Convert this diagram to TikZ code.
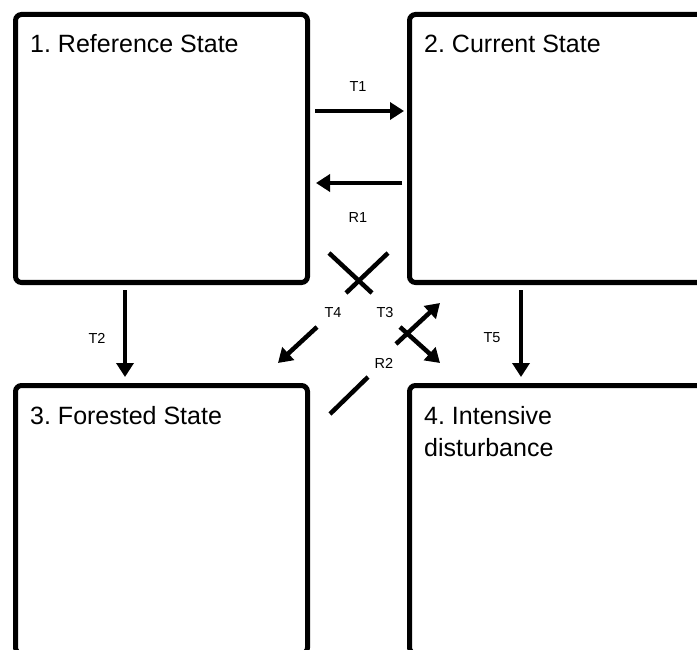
\documentclass[tikz,border=0pt]{standalone}
\usepackage{fontspec}
\setmainfont{Liberation Sans}
\usetikzlibrary{arrows.meta}
\frenchspacing
\begin{document}
\begin{tikzpicture}[x=1pt,y=-1pt,
  box/.style={draw,line width=5pt,rounded corners=6pt,anchor=north west,inner sep=0pt},
  title/.style={anchor=base west,font=\fontsize{25}{32}\selectfont,inner sep=0pt},
  lab/.style={font=\fontsize{14.5}{17}\selectfont,inner sep=0pt},
  arr/.style={line width=4.5pt,-{Triangle[width=17pt,length=14pt]}},
  bar/.style={line width=4.5pt}]
\useasboundingbox (0,0) rectangle (697,650);
\clip (0,0) rectangle (697,650);
% boxes
\node[box,minimum width=292pt,minimum height=268pt] (b1) at (13,12) {};
\node[box,minimum width=300pt,minimum height=268pt] (b2) at (407,12) {};
\node[box,minimum width=292pt,minimum height=268pt] (b3) at (13,383) {};
\node[box,minimum width=300pt,minimum height=268pt] (b4) at (407,383) {};
% titles
\node[title] (n1) at (30,53) {1. Reference State};
\node[title] (n2) at (424,53) {2. Current State};
\node[title] (n3) at (30,424) {3. Forested State};
\node[title] (n4) at (424,424) {4. Intensive};
\node[title] (n4b) at (424,456) {disturbance};
% connector end points
\coordinate (t1s) at (315,111); \coordinate (t1e) at (404,111);
\coordinate (r1s) at (402,183); \coordinate (r1e) at (316,183);
\coordinate (t2s) at (125,290); \coordinate (t2e) at (125,377);
\coordinate (t5s) at (521,290); \coordinate (t5e) at (521,377);
\coordinate (t4s) at (317,327); \coordinate (t4e) at (278,363);
\coordinate (t3s) at (396,344); \coordinate (t3e) at (440,303);
\coordinate (r2s) at (400,327); \coordinate (r2e) at (440,363);
\coordinate (x1a) at (329,253); \coordinate (x1b) at (372,293);
\coordinate (x2a) at (388,253); \coordinate (x2b) at (346,293);
\coordinate (l1a) at (330,414); \coordinate (l1b) at (368,377);
% arrows
\draw[arr] (t1s) -- (t1e);
\draw[arr] (r1s) -- (r1e);
\draw[arr] (t2s) -- (t2e);
\draw[arr] (t5s) -- (t5e);
\draw[arr] (t4s) -- (t4e);
\draw[arr] (t3s) -- (t3e);
\draw[arr] (r2s) -- (r2e);
\draw[bar] (x1a) -- (x1b);
\draw[bar] (x2a) -- (x2b);
\draw[bar] (l1a) -- (l1b);
% labels
\node[lab] (lt1) at (358,87) {T1};
\node[lab] (lr1) at (358,218) {R1};
\node[lab] (lt2) at (97,338) {T2};
\node[lab] (lt5) at (492,338) {T5};
\node[lab] (lt4) at (333,313) {T4};
\node[lab] (lt3) at (385,313) {T3};
\node[lab] (lr2) at (384,363) {R2};
\end{tikzpicture}
\end{document}
